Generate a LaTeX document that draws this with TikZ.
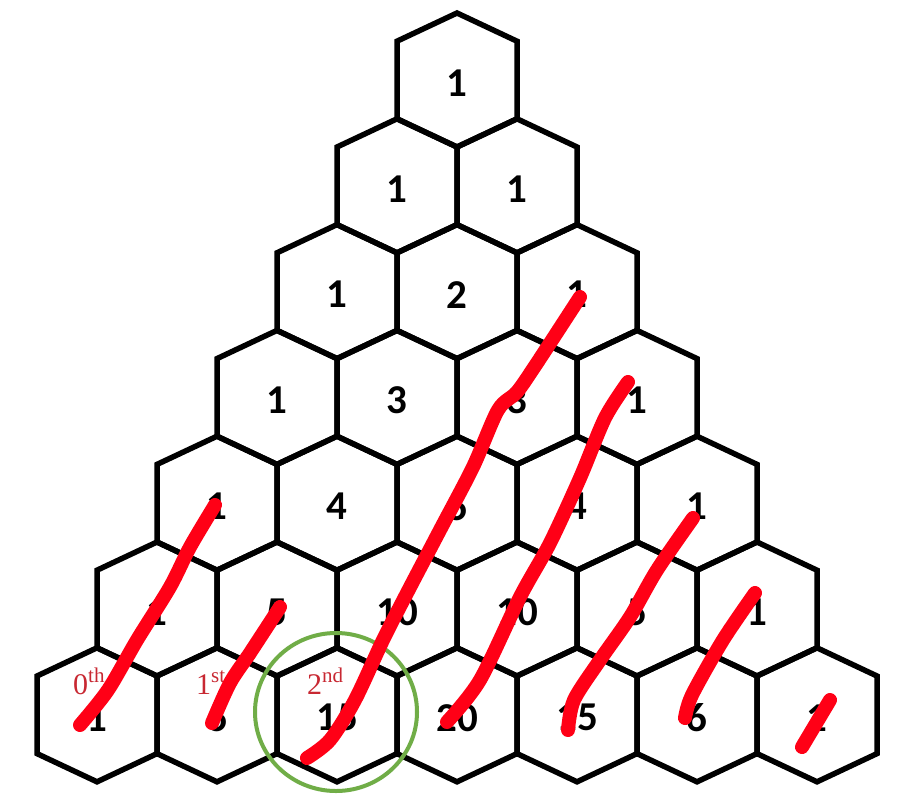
\documentclass[tikz,border=0pt]{standalone}
\usepackage{fontspec}
\setmainfont{Carlito}
\newfontfamily\labfont{Liberation Serif}
\definecolor{inkred}{RGB}{255,0,22}
\definecolor{labred}{RGB}{200,40,50}
\definecolor{cgreen}{RGB}{112,173,71}
\newcommand{\supx}[1]{\raisebox{0.4em}{\fontsize{21}{21}\selectfont #1}}
\begin{document}
\begin{tikzpicture}[x=1pt,y=-1pt,
  hexline/.style={line width=5.5pt,line join=miter},
  num/.style={font=\bfseries\fontsize{41}{41}\selectfont,inner sep=0pt},
  lab/.style={font=\labfont\fontsize{30}{30}\selectfont,text=labred,inner sep=0pt,anchor=base west},
  ink/.style={draw=inkred,line width=14pt,line cap=round,line join=round},
  ring/.style={draw=cgreen,line width=4pt}]
\useasboundingbox (0,0) rectangle (904,796);
\fill[white] (0,0) rectangle (904,796);
\foreach \r in {0,...,6}{
  \foreach \k in {0,...,\r}{
    \pgfmathsetmacro\cx{457+120*(\k-\r/2)}
    \pgfmathsetmacro\cy{80+105.8*\r}
    \pgfmathtruncatemacro\v{factorial(\r)/(factorial(\k)*factorial(\r-\k))}
    \draw[hexline] (\cx,\cy-67) -- ++(60,28.2) -- ++(0,77.6) -- ++(-60,28.2) -- ++(-60,-28.2) -- ++(0,-77.6) -- cycle;
    \node[num] (n-\r-\k) at (\cx,\cy+3) {\v};
  }
}
\node[lab] (l0) at (73,694) {0\supx{th}};
\node[lab] (l1) at (196,694) {1\supx{st}};
\node[lab] (l2) at (307,694) {2\supx{nd}};
\draw[ring] (336,712) ellipse [x radius=81, y radius=79];
\draw[ink] plot[smooth] coordinates {(80,725) (108,690) (137,640) (170,587) (190,547) (215,505)};
\draw[ink] plot[smooth] coordinates {(212,723) (230,683) (250,653) (280,607)};
\draw[ink] plot[smooth] coordinates {(307,758) (330,740) (355,700) (383,640) (407,593) (440,530) (473,467) (498,410) (517,392) (537,363) (567,317) (580,297)};
\draw[ink] plot[smooth] coordinates {(447,722) (480,680) (520,597) (550,543) (580,478) (605,418) (628,382)};
\draw[ink] plot[smooth] coordinates {(568,730) (574,700) (600,660) (630,617) (657,570) (693,518)};
\draw[ink] plot[smooth] coordinates {(685,718) (692,695) (723,640) (755,593)};
\draw[ink] (802,747) -- (830,700);
\end{tikzpicture}
\end{document}
